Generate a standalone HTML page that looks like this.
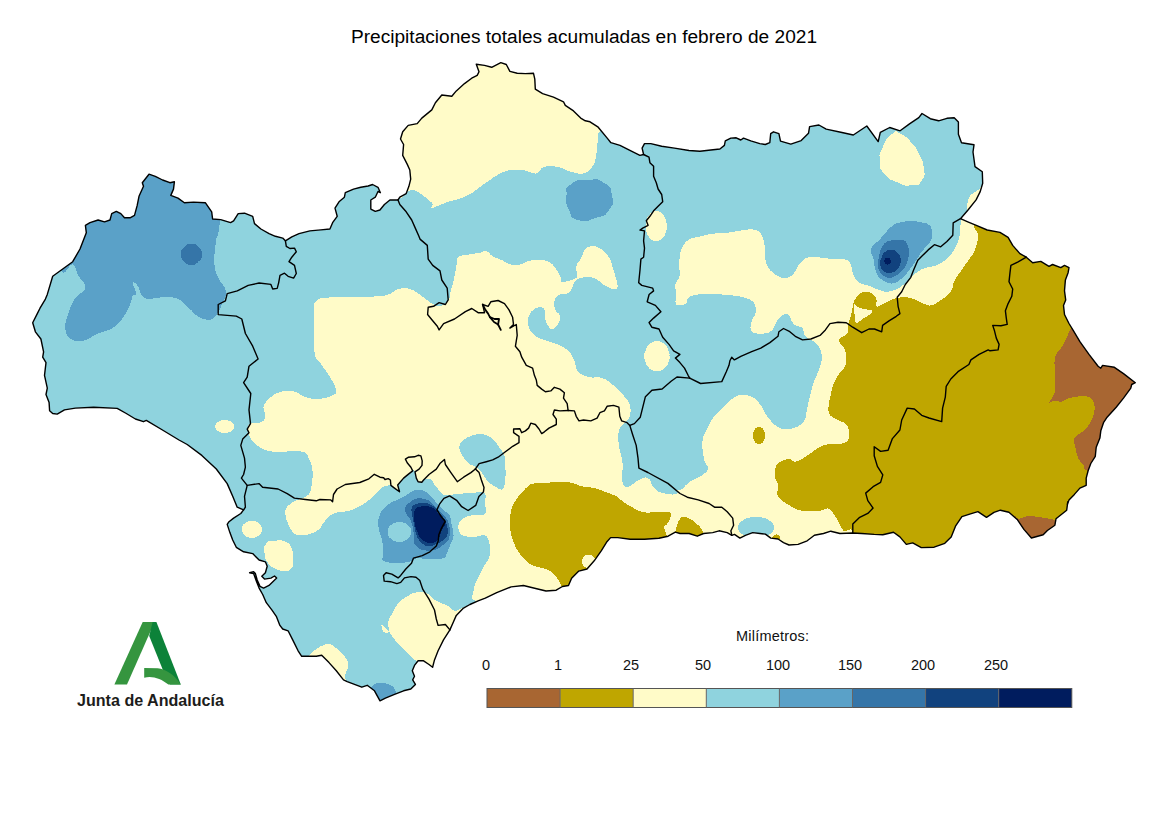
<!DOCTYPE html>
<html><head><meta charset="utf-8"><title>Precipitaciones</title>
<style>
html,body{margin:0;padding:0;background:#fff;}
body{width:1169px;height:826px;overflow:hidden;position:relative;font-family:"Liberation Sans",sans-serif;}
svg{position:absolute;left:0;top:0;}
text{font-family:"Liberation Sans",sans-serif;}
</style></head><body>
<svg width="1169" height="826" viewBox="0 0 1169 826">
<rect width="1169" height="826" fill="#ffffff"/>
<defs><clipPath id="and"><path d="M52.7,413.5 L49.6,410.8 L49.1,402.6 L46.0,394.5 L47.3,388.1 L44.5,375.4 L46.0,362.7 L42.7,357.2 L43.6,351.8 L40.9,339.0 L35.4,331.8 L32.7,322.7 L37.3,313.6 L40.0,308.2 L45.4,299.1 L47.3,294.4 L52.7,276.3 L62.7,269.0 L72.7,261.7 L80.0,249.0 L86.3,232.7 L85.4,225.4 L90.0,222.7 L98.1,220.0 L104.5,221.8 L110.0,220.0 L111.7,213.6 L116.3,211.4 L120.8,213.6 L124.5,217.8 L130.0,217.8 L134.5,215.4 L137.2,205.4 L139.0,196.3 L143.5,186.3 L142.3,182.7 L149.0,174.2 L155.3,176.3 L162.6,180.0 L169.9,182.7 L174.4,181.8 L173.5,189.1 L170.8,195.4 L178.0,198.1 L184.4,202.7 L193.5,202.1 L205.3,202.7 L211.7,211.8 L212.6,219.0 L220.7,219.6 L230.6,222.6 L233.6,220.9 L238.2,213.6 L244.5,213.2 L252.7,216.3 L254.5,223.6 L260.9,229.0 L269.1,233.6 L275.4,236.3 L282.7,238.1 L285.4,240.8 L291.8,236.8 L299.0,233.6 L309.9,230.9 L320.8,229.9 L329.9,229.0 L332.6,222.7 L337.2,216.3 L335.0,208.1 L339.0,201.8 L344.4,197.2 L345.3,192.7 L353.5,189.1 L360.8,187.3 L368.1,186.0 L372.6,184.5 L378.0,187.3 L380.4,192.7 L378.0,191.5 L375.3,197.2 L370.8,200.0 L370.8,209.1 L375.3,211.4 L379.9,210.0 L384.4,204.5 L389.9,200.0 L398.0,200.0 L399.8,197.2 L406.2,193.6 L408.9,186.3 L410.7,179.1 L409.8,170.0 L407.3,164.4 L402.7,155.4 L403.6,144.5 L400.5,139.0 L402.7,131.7 L408.2,125.4 L417.2,123.6 L421.8,118.1 L431.8,109.9 L435.4,102.7 L441.8,95.0 L451.8,96.3 L456.3,90.9 L464.5,83.6 L471.7,78.2 L477.2,75.4 L479.0,71.8 L476.3,64.2 L484.5,65.4 L491.7,67.3 L500.8,62.7 L506.3,64.5 L509.9,71.4 L517.2,73.3 L525.3,73.6 L533.5,73.3 L534.8,79.1 L535.3,89.1 L542.6,93.6 L553.5,97.2 L563.5,101.8 L565.3,105.4 L573.5,110.9 L580.7,118.1 L585.3,120.8 L590.0,121.8 L598.2,127.2 L607.2,138.1 L610.9,142.7 L620.0,145.4 L630.9,150.9 L639.9,155.4 L643.6,154.5 L642.1,148.1 L644.5,143.6 L650.8,143.6 L661.7,146.3 L674.5,148.1 L689.0,150.5 L699.9,151.2 L710.8,150.0 L719.9,149.0 L724.4,145.4 L725.3,140.9 L730.8,138.1 L736.2,137.8 L740.8,140.0 L743.5,138.1 L750.8,140.9 L759.8,143.6 L765.3,144.5 L769.8,142.7 L770.7,133.6 L773.5,131.8 L778.9,133.6 L780.5,141.2 L790.8,144.1 L801.2,140.6 L808.5,133.3 L809.6,126.6 L818.9,125.0 L826.2,129.1 L840.8,132.3 L853.3,135.0 L866.8,126.0 L878.2,141.6 L880.3,132.3 L889.7,127.5 L900.1,130.8 L909.5,123.9 L918.8,117.7 L922.0,113.5 L930.3,118.7 L938.6,120.8 L946.9,118.3 L954.2,117.7 L958.4,121.9 L958.4,134.3 L961.5,142.7 L974.0,144.8 L973.0,152.0 L975.0,166.6 L982.3,171.8 L982.7,183.3 L980.2,191.6 L976.1,199.9 L967.8,210.3 L960.5,218.7 L967.8,221.8 L976.3,225.4 L987.2,230.0 L1000.0,232.4 L1008.1,237.3 L1012.7,245.4 L1019.9,253.6 L1026.3,257.2 L1032.7,262.7 L1040.8,261.4 L1049.0,266.3 L1052.6,264.5 L1060.8,267.6 L1064.5,265.4 L1069.0,267.6 L1068.1,272.7 L1065.4,279.9 L1064.5,290.8 L1065.7,299.9 L1063.5,305.4 L1064.5,314.5 L1069.0,323.5 L1073.5,330.8 L1079.9,341.7 L1089.0,354.4 L1098.1,366.2 L1100.8,368.2 L1102.6,365.4 L1114.4,367.3 L1123.5,373.6 L1135.3,382.7 L1131.7,384.5 L1130.8,388.2 L1123.5,398.1 L1116.2,407.2 L1107.1,417.2 L1103.5,422.7 L1100.8,430.8 L1099.9,438.1 L1096.2,447.2 L1095.3,456.3 L1090.8,463.5 L1088.1,470.8 L1086.2,478.1 L1086.2,485.3 L1079.9,488.1 L1074.4,494.4 L1069.0,499.9 L1067.2,505.3 L1067.8,501.6 L1066.7,510.2 L1056.0,518.8 L1054.9,525.2 L1047.4,530.5 L1043.2,534.8 L1031.4,538.0 L1023.9,529.4 L1017.5,519.8 L1008.9,512.3 L1000.4,510.2 L994.0,512.3 L986.5,517.3 L977.9,511.7 L970.5,513.8 L961.9,516.6 L955.5,526.2 L951.2,536.9 L944.8,543.3 L934.1,547.2 L921.3,547.6 L912.7,542.9 L906.3,544.4 L899.9,536.9 L893.5,532.2 L882.8,534.8 L874.2,534.4 L861.7,533.5 L852.6,533.0 L839.9,533.5 L830.8,531.2 L823.5,533.5 L814.4,535.3 L807.2,540.8 L798.1,544.4 L789.0,545.0 L783.5,542.6 L778.1,539.0 L770.8,538.1 L765.4,534.1 L759.9,533.5 L752.7,532.6 L745.4,535.3 L739.9,538.1 L734.5,534.4 L731.8,535.3 L727.2,532.6 L719.1,530.8 L712.7,532.6 L703.6,533.5 L697.3,536.2 L689.1,533.5 L680.0,533.5 L675.3,532.1 L668.1,536.2 L658.9,538.2 L644.5,539.3 L630.1,539.3 L617.8,537.6 L610.6,537.6 L606.5,542.3 L601.4,550.6 L594.2,560.8 L587.0,569.0 L578.8,571.1 L571.6,578.3 L568.5,585.5 L562.4,586.5 L556.2,590.2 L546.0,591.0 L535.7,588.5 L523.4,585.5 L511.1,586.9 L496.7,592.6 L485.3,598.1 L478.1,600.9 L469.9,604.5 L463.5,608.1 L456.3,615.4 L453.5,621.8 L449.9,629.9 L443.5,639.9 L438.1,650.8 L434.5,659.9 L432.6,667.2 L429.0,664.5 L423.6,660.8 L418.1,660.8 L414.5,665.4 L412.3,670.8 L414.5,676.3 L412.7,679.9 L415.4,684.4 L410.8,689.0 L403.6,690.8 L394.5,694.4 L385.4,698.1 L380.0,700.8 L374.5,690.8 L367.2,685.3 L361.8,687.2 L354.5,684.4 L347.2,681.7 L343.5,679.9 L336.3,670.8 L329.0,662.6 L321.7,655.3 L316.3,656.3 L309.0,656.3 L301.7,656.3 L298.1,650.8 L292.7,639.9 L288.1,630.8 L282.7,629.0 L279.9,625.4 L276.3,616.3 L271.8,609.9 L266.3,602.7 L262.7,594.5 L259.1,588.1 L256.3,580.9 L253.6,573.6 L249.6,572.7 L253.6,571.8 L255.4,573.6 L257.2,580.0 L260.0,586.3 L263.6,588.1 L269.0,585.4 L273.6,580.9 L276.7,578.1 L274.5,576.0 L270.9,578.1 L264.5,579.1 L261.8,576.3 L265.4,572.7 L267.2,566.3 L265.4,561.8 L259.1,560.0 L252.7,553.6 L243.6,551.8 L236.3,547.3 L232.7,540.0 L229.9,532.6 L227.2,524.4 L229.0,521.7 L233.6,518.1 L240.8,513.5 L243.6,509.9 L237.2,507.2 L232.7,496.3 L227.2,483.6 L216.3,469.0 L201.8,455.4 L187.2,444.5 L179.0,440.0 L160.8,429.0 L146.3,420.4 L143.5,421.7 L135.4,419.0 L126.3,413.5 L117.2,408.4 L93.6,407.2 L75.4,408.1 L64.5,409.9 L57.2,414.1Z"/></clipPath></defs>
<g clip-path="url(#and)" shape-rendering="crispEdges">
<path d="M52.7,413.5 L49.6,410.8 L49.1,402.6 L46.0,394.5 L47.3,388.1 L44.5,375.4 L46.0,362.7 L42.7,357.2 L43.6,351.8 L40.9,339.0 L35.4,331.8 L32.7,322.7 L37.3,313.6 L40.0,308.2 L45.4,299.1 L47.3,294.4 L52.7,276.3 L62.7,269.0 L72.7,261.7 L80.0,249.0 L86.3,232.7 L85.4,225.4 L90.0,222.7 L98.1,220.0 L104.5,221.8 L110.0,220.0 L111.7,213.6 L116.3,211.4 L120.8,213.6 L124.5,217.8 L130.0,217.8 L134.5,215.4 L137.2,205.4 L139.0,196.3 L143.5,186.3 L142.3,182.7 L149.0,174.2 L155.3,176.3 L162.6,180.0 L169.9,182.7 L174.4,181.8 L173.5,189.1 L170.8,195.4 L178.0,198.1 L184.4,202.7 L193.5,202.1 L205.3,202.7 L211.7,211.8 L212.6,219.0 L220.7,219.6 L230.6,222.6 L233.6,220.9 L238.2,213.6 L244.5,213.2 L252.7,216.3 L254.5,223.6 L260.9,229.0 L269.1,233.6 L275.4,236.3 L282.7,238.1 L285.4,240.8 L291.8,236.8 L299.0,233.6 L309.9,230.9 L320.8,229.9 L329.9,229.0 L332.6,222.7 L337.2,216.3 L335.0,208.1 L339.0,201.8 L344.4,197.2 L345.3,192.7 L353.5,189.1 L360.8,187.3 L368.1,186.0 L372.6,184.5 L378.0,187.3 L380.4,192.7 L378.0,191.5 L375.3,197.2 L370.8,200.0 L370.8,209.1 L375.3,211.4 L379.9,210.0 L384.4,204.5 L389.9,200.0 L398.0,200.0 L399.8,197.2 L406.2,193.6 L408.9,186.3 L410.7,179.1 L409.8,170.0 L407.3,164.4 L402.7,155.4 L403.6,144.5 L400.5,139.0 L402.7,131.7 L408.2,125.4 L417.2,123.6 L421.8,118.1 L431.8,109.9 L435.4,102.7 L441.8,95.0 L451.8,96.3 L456.3,90.9 L464.5,83.6 L471.7,78.2 L477.2,75.4 L479.0,71.8 L476.3,64.2 L484.5,65.4 L491.7,67.3 L500.8,62.7 L506.3,64.5 L509.9,71.4 L517.2,73.3 L525.3,73.6 L533.5,73.3 L534.8,79.1 L535.3,89.1 L542.6,93.6 L553.5,97.2 L563.5,101.8 L565.3,105.4 L573.5,110.9 L580.7,118.1 L585.3,120.8 L590.0,121.8 L598.2,127.2 L607.2,138.1 L610.9,142.7 L620.0,145.4 L630.9,150.9 L639.9,155.4 L643.6,154.5 L642.1,148.1 L644.5,143.6 L650.8,143.6 L661.7,146.3 L674.5,148.1 L689.0,150.5 L699.9,151.2 L710.8,150.0 L719.9,149.0 L724.4,145.4 L725.3,140.9 L730.8,138.1 L736.2,137.8 L740.8,140.0 L743.5,138.1 L750.8,140.9 L759.8,143.6 L765.3,144.5 L769.8,142.7 L770.7,133.6 L773.5,131.8 L778.9,133.6 L780.5,141.2 L790.8,144.1 L801.2,140.6 L808.5,133.3 L809.6,126.6 L818.9,125.0 L826.2,129.1 L840.8,132.3 L853.3,135.0 L866.8,126.0 L878.2,141.6 L880.3,132.3 L889.7,127.5 L900.1,130.8 L909.5,123.9 L918.8,117.7 L922.0,113.5 L930.3,118.7 L938.6,120.8 L946.9,118.3 L954.2,117.7 L958.4,121.9 L958.4,134.3 L961.5,142.7 L974.0,144.8 L973.0,152.0 L975.0,166.6 L982.3,171.8 L982.7,183.3 L980.2,191.6 L976.1,199.9 L967.8,210.3 L960.5,218.7 L967.8,221.8 L976.3,225.4 L987.2,230.0 L1000.0,232.4 L1008.1,237.3 L1012.7,245.4 L1019.9,253.6 L1026.3,257.2 L1032.7,262.7 L1040.8,261.4 L1049.0,266.3 L1052.6,264.5 L1060.8,267.6 L1064.5,265.4 L1069.0,267.6 L1068.1,272.7 L1065.4,279.9 L1064.5,290.8 L1065.7,299.9 L1063.5,305.4 L1064.5,314.5 L1069.0,323.5 L1073.5,330.8 L1079.9,341.7 L1089.0,354.4 L1098.1,366.2 L1100.8,368.2 L1102.6,365.4 L1114.4,367.3 L1123.5,373.6 L1135.3,382.7 L1131.7,384.5 L1130.8,388.2 L1123.5,398.1 L1116.2,407.2 L1107.1,417.2 L1103.5,422.7 L1100.8,430.8 L1099.9,438.1 L1096.2,447.2 L1095.3,456.3 L1090.8,463.5 L1088.1,470.8 L1086.2,478.1 L1086.2,485.3 L1079.9,488.1 L1074.4,494.4 L1069.0,499.9 L1067.2,505.3 L1067.8,501.6 L1066.7,510.2 L1056.0,518.8 L1054.9,525.2 L1047.4,530.5 L1043.2,534.8 L1031.4,538.0 L1023.9,529.4 L1017.5,519.8 L1008.9,512.3 L1000.4,510.2 L994.0,512.3 L986.5,517.3 L977.9,511.7 L970.5,513.8 L961.9,516.6 L955.5,526.2 L951.2,536.9 L944.8,543.3 L934.1,547.2 L921.3,547.6 L912.7,542.9 L906.3,544.4 L899.9,536.9 L893.5,532.2 L882.8,534.8 L874.2,534.4 L861.7,533.5 L852.6,533.0 L839.9,533.5 L830.8,531.2 L823.5,533.5 L814.4,535.3 L807.2,540.8 L798.1,544.4 L789.0,545.0 L783.5,542.6 L778.1,539.0 L770.8,538.1 L765.4,534.1 L759.9,533.5 L752.7,532.6 L745.4,535.3 L739.9,538.1 L734.5,534.4 L731.8,535.3 L727.2,532.6 L719.1,530.8 L712.7,532.6 L703.6,533.5 L697.3,536.2 L689.1,533.5 L680.0,533.5 L675.3,532.1 L668.1,536.2 L658.9,538.2 L644.5,539.3 L630.1,539.3 L617.8,537.6 L610.6,537.6 L606.5,542.3 L601.4,550.6 L594.2,560.8 L587.0,569.0 L578.8,571.1 L571.6,578.3 L568.5,585.5 L562.4,586.5 L556.2,590.2 L546.0,591.0 L535.7,588.5 L523.4,585.5 L511.1,586.9 L496.7,592.6 L485.3,598.1 L478.1,600.9 L469.9,604.5 L463.5,608.1 L456.3,615.4 L453.5,621.8 L449.9,629.9 L443.5,639.9 L438.1,650.8 L434.5,659.9 L432.6,667.2 L429.0,664.5 L423.6,660.8 L418.1,660.8 L414.5,665.4 L412.3,670.8 L414.5,676.3 L412.7,679.9 L415.4,684.4 L410.8,689.0 L403.6,690.8 L394.5,694.4 L385.4,698.1 L380.0,700.8 L374.5,690.8 L367.2,685.3 L361.8,687.2 L354.5,684.4 L347.2,681.7 L343.5,679.9 L336.3,670.8 L329.0,662.6 L321.7,655.3 L316.3,656.3 L309.0,656.3 L301.7,656.3 L298.1,650.8 L292.7,639.9 L288.1,630.8 L282.7,629.0 L279.9,625.4 L276.3,616.3 L271.8,609.9 L266.3,602.7 L262.7,594.5 L259.1,588.1 L256.3,580.9 L253.6,573.6 L249.6,572.7 L253.6,571.8 L255.4,573.6 L257.2,580.0 L260.0,586.3 L263.6,588.1 L269.0,585.4 L273.6,580.9 L276.7,578.1 L274.5,576.0 L270.9,578.1 L264.5,579.1 L261.8,576.3 L265.4,572.7 L267.2,566.3 L265.4,561.8 L259.1,560.0 L252.7,553.6 L243.6,551.8 L236.3,547.3 L232.7,540.0 L229.9,532.6 L227.2,524.4 L229.0,521.7 L233.6,518.1 L240.8,513.5 L243.6,509.9 L237.2,507.2 L232.7,496.3 L227.2,483.6 L216.3,469.0 L201.8,455.4 L187.2,444.5 L179.0,440.0 L160.8,429.0 L146.3,420.4 L143.5,421.7 L135.4,419.0 L126.3,413.5 L117.2,408.4 L93.6,407.2 L75.4,408.1 L64.5,409.9 L57.2,414.1Z" fill="#8fd3de"/>
<path d="M395.0,186.0 C391.3,158.0 351.6,77.2 395.0,50.0 C438.4,22.8 568.6,35.0 612.0,50.0 C655.4,65.0 614.4,108.7 612.0,125.0 C609.6,141.3 602.7,129.3 599.9,131.7 C597.1,134.1 598.8,132.5 598.1,137.2 C597.4,141.9 597.3,149.5 596.2,155.3 C595.1,161.1 595.1,162.6 592.6,166.2 C590.1,169.8 587.9,172.4 583.5,173.5 C579.1,174.6 575.9,173.0 570.8,171.7 C565.7,170.4 563.5,167.9 558.1,167.0 C552.7,166.1 548.0,165.7 543.6,167.0 C539.2,168.3 540.7,172.9 536.3,173.5 C531.9,174.1 528.2,170.3 521.8,169.9 C515.4,169.5 511.3,169.2 504.2,171.7 C497.1,174.2 493.4,177.9 486.1,182.6 C478.8,187.3 475.9,191.3 467.9,195.3 C459.9,199.3 453.4,200.0 446.1,202.5 C438.8,205.0 434.5,208.0 431.6,208.0 C428.7,208.0 435.2,206.1 431.6,202.5 C428.0,198.9 420.7,193.1 413.4,189.8 C406.1,186.5 398.7,214.0 395.0,186.0Z" fill="#fffbc8"/>
<path d="M316.2,300.8 C320.2,297.2 322.8,298.1 334.4,297.2 C346.0,296.3 363.4,297.1 374.3,296.5 C385.2,295.9 384.2,295.8 388.9,294.3 C393.6,292.8 393.5,290.2 397.9,289.2 C402.3,288.2 405.6,287.6 410.7,289.2 C415.8,290.8 419.1,294.3 423.4,297.2 C427.7,300.1 428.9,302.0 432.4,303.8 C435.9,305.6 437.8,306.8 441.0,306.0 C444.2,305.2 446.7,302.5 448.5,300.0 C450.3,297.5 449.0,297.4 450.0,293.6 C451.0,289.8 452.3,286.4 453.6,280.9 C454.9,275.4 455.4,271.0 456.3,266.3 C457.2,261.6 455.6,259.6 458.1,257.2 C460.6,254.8 464.6,255.4 469.0,254.5 C473.4,253.6 476.4,253.4 479.9,252.7 C483.4,252.0 483.7,250.2 486.3,250.9 C488.9,251.6 489.6,254.5 492.7,256.3 C495.8,258.1 498.1,258.4 501.7,260.0 C505.3,261.6 507.2,263.6 510.8,264.5 C514.4,265.4 516.3,265.2 519.9,264.5 C523.5,263.8 525.0,261.8 529.0,260.9 C533.0,260.0 535.9,259.8 539.9,260.0 C543.9,260.2 545.9,260.2 549.0,261.8 C552.1,263.4 552.9,265.0 555.3,268.1 C557.7,271.2 559.6,274.4 560.8,277.2 C562.0,280.0 558.8,281.6 561.5,282.0 C564.2,282.4 571.3,280.3 574.4,279.0 C577.5,277.7 576.7,277.9 577.1,275.4 C577.5,272.9 575.3,269.9 576.2,266.3 C577.1,262.7 580.1,260.5 581.7,257.2 C583.3,253.9 582.6,252.2 584.4,250.0 C586.2,247.8 587.6,246.7 590.7,246.3 C593.8,245.9 596.2,246.0 599.8,248.2 C603.4,250.4 606.2,252.8 608.9,257.2 C611.6,261.6 611.9,264.9 613.5,270.0 C615.1,275.1 616.4,279.1 617.1,282.7 C617.8,286.3 618.0,286.8 617.1,288.1 C616.2,289.4 615.3,289.7 612.6,289.0 C609.9,288.3 606.8,286.5 603.5,284.5 C600.2,282.5 599.1,280.5 596.2,279.0 C593.3,277.5 592.2,277.4 588.9,277.2 C585.6,277.0 582.6,277.4 579.9,278.1 C577.2,278.8 576.8,279.3 575.3,280.9 C573.8,282.5 573.9,283.9 572.6,286.3 C571.3,288.7 571.9,290.9 569.0,292.7 C566.1,294.5 561.0,293.6 558.1,295.4 C555.2,297.2 555.0,298.9 554.4,301.8 C553.8,304.7 554.2,307.2 555.3,309.9 C556.4,312.6 559.2,312.9 559.9,315.4 C560.6,317.9 560.3,319.9 559.0,322.6 C557.7,325.3 555.5,328.1 553.5,329.0 C551.5,329.9 550.6,329.2 549.0,327.2 C547.4,325.2 546.2,322.5 545.3,319.0 C544.4,315.5 545.3,312.3 544.4,309.9 C543.5,307.5 542.8,307.4 540.8,307.2 C538.8,307.0 536.8,307.4 534.4,309.0 C532.0,310.6 530.3,312.3 529.0,315.4 C527.7,318.5 527.4,320.9 528.1,324.5 C528.8,328.1 529.5,330.4 532.6,333.5 C535.7,336.6 538.4,337.7 543.5,339.9 C548.6,342.1 553.0,342.0 558.1,344.4 C563.2,346.8 565.7,348.4 569.0,351.7 C572.3,355.0 572.6,356.8 574.4,360.8 C576.2,364.8 575.2,368.4 578.1,371.7 C581.0,375.0 584.0,375.8 588.9,377.1 C593.8,378.4 597.6,376.4 602.5,378.1 C607.4,379.8 609.0,381.8 613.4,385.4 C617.8,389.0 621.0,392.3 624.3,396.3 C627.6,400.3 628.7,401.3 629.8,405.3 C630.9,409.3 630.9,412.6 629.8,416.2 C628.7,419.8 626.5,420.6 624.3,423.5 C622.1,426.4 620.0,426.4 618.9,430.8 C617.8,435.2 618.2,438.8 618.9,445.3 C619.6,451.8 621.8,456.1 622.5,463.4 C623.2,470.7 621.4,476.9 622.5,481.6 C623.6,486.3 624.7,487.4 628.0,487.0 C631.3,486.6 634.9,481.6 638.9,479.8 C642.9,478.0 645.0,476.6 647.9,478.0 C650.8,479.4 650.8,484.1 653.4,487.0 C656.0,489.9 656.3,491.0 660.7,492.5 C665.1,494.0 670.9,495.0 675.2,494.3 C679.5,493.6 677.4,489.2 682.4,488.9 C687.4,488.6 689.5,489.6 700.0,493.0 C710.5,496.4 726.0,495.6 735.0,506.0 C744.0,516.4 772.0,534.2 745.0,545.0 C718.0,555.8 637.0,549.0 600.0,560.0 C563.0,571.0 583.5,591.6 560.0,600.0 C536.5,608.4 500.0,603.9 482.7,602.0 C465.4,600.1 473.6,597.2 473.6,590.6 C473.6,584.0 479.4,576.1 482.7,568.8 C486.0,561.5 489.3,560.7 490.0,554.2 C490.7,547.7 489.5,539.5 486.3,536.1 C483.1,532.7 479.1,537.4 474.0,537.0 C468.9,536.6 464.0,537.0 461.0,534.3 C458.0,531.6 457.6,527.0 459.0,523.4 C460.4,519.8 463.1,517.9 468.2,516.1 C473.3,514.3 481.1,516.8 484.5,514.3 C487.9,511.8 485.1,507.7 485.0,503.4 C484.9,499.1 487.0,495.1 484.2,493.0 C481.4,490.9 475.3,493.0 470.8,493.1 C466.3,493.2 465.3,493.3 461.7,493.6 C458.1,493.9 455.2,494.1 452.7,494.5 C450.2,494.9 451.0,495.4 449.0,495.4 C447.0,495.4 444.9,495.8 442.7,494.5 C440.5,493.2 439.7,490.8 438.1,489.0 C436.5,487.2 435.8,487.2 434.5,485.4 C433.2,483.6 433.6,481.3 431.8,480.0 C430.0,478.7 427.1,479.1 425.4,479.1 C423.7,479.1 424.1,479.4 423.4,480.0 C422.7,480.6 422.9,481.8 421.8,482.2 C420.7,482.6 419.2,482.6 418.1,481.8 C417.0,481.0 416.9,480.1 416.3,478.1 C415.7,476.1 415.7,473.2 415.0,471.8 C414.3,470.4 415.0,469.6 412.7,470.9 C410.4,472.2 406.6,475.3 403.6,478.1 C400.6,480.9 398.5,482.3 397.7,485.0 C396.9,487.7 400.1,491.2 399.5,491.8 C398.9,492.4 396.2,489.4 394.5,488.1 C392.8,486.8 393.5,485.4 390.9,485.4 C388.3,485.4 385.6,485.3 381.6,488.0 C377.6,490.7 376.5,494.5 370.7,498.8 C364.9,503.1 359.8,506.8 352.5,509.7 C345.2,512.6 339.8,511.1 334.4,513.3 C329.0,515.5 328.9,517.0 325.3,520.6 C321.7,524.2 321.6,528.6 316.2,531.5 C310.8,534.4 303.5,536.2 298.1,535.1 C292.7,534.0 291.5,530.8 289.0,526.0 C286.5,521.2 284.7,515.7 285.4,511.0 C286.1,506.3 288.6,505.2 292.6,502.4 C296.6,499.6 301.7,499.5 305.3,497.0 C308.9,494.5 309.3,494.8 310.8,489.7 C312.3,484.6 313.0,477.8 312.6,471.6 C312.2,465.4 311.2,462.8 309.0,458.8 C306.8,454.8 309.0,453.0 301.7,451.6 C294.4,450.2 281.3,452.7 272.6,451.6 C263.9,450.5 262.8,449.4 258.1,446.1 C253.4,442.8 250.8,439.6 249.0,435.2 C247.2,430.8 246.8,426.8 249.0,424.3 C251.2,421.8 256.6,423.9 259.9,422.5 C263.2,421.1 264.7,420.4 265.4,417.1 C266.1,413.8 262.5,410.2 263.6,406.2 C264.7,402.2 267.2,400.0 270.8,397.1 C274.4,394.2 277.0,392.7 281.7,391.6 C286.4,390.5 289.7,390.5 294.4,391.6 C299.1,392.7 300.2,395.6 305.3,397.1 C310.4,398.6 314.4,399.3 319.9,398.9 C325.4,398.5 329.3,397.1 332.6,395.3 C335.9,393.5 336.9,393.8 336.2,389.8 C335.5,385.8 332.2,380.7 328.9,375.3 C325.6,369.9 322.8,367.3 319.9,362.6 C317.0,357.9 315.5,361.1 314.4,351.7 C313.3,342.3 314.0,325.6 314.4,315.4 C314.8,305.2 312.2,304.4 316.2,300.8Z" fill="#fffbc8"/>
<path d="M679.0,266.3 C679.0,262.3 679.3,259.4 680.0,255.4 C680.7,251.4 680.7,249.6 682.7,246.3 C684.7,243.0 686.3,241.1 689.9,239.1 C693.5,237.1 696.1,237.5 700.8,236.4 C705.5,235.3 708.0,234.3 713.5,233.6 C719.0,232.9 721.9,233.4 728.1,232.7 C734.3,232.0 739.4,230.6 744.4,230.0 C749.4,229.4 749.7,228.8 753.0,229.5 C756.3,230.2 758.5,230.6 760.8,233.6 C763.1,236.6 763.5,239.4 764.4,244.5 C765.3,249.6 764.2,254.0 765.3,259.1 C766.4,264.2 767.2,266.6 769.9,270.0 C772.6,273.4 775.6,274.7 778.9,276.3 C782.2,277.9 783.3,278.6 786.2,278.1 C789.1,277.6 790.6,276.7 793.5,273.6 C796.4,270.5 797.4,266.0 800.7,262.7 C804.0,259.4 804.2,257.8 810.0,257.0 C815.8,256.2 822.3,258.1 829.9,258.8 C837.5,259.5 843.4,257.4 848.1,260.7 C852.8,264.0 851.3,270.8 853.5,275.2 C855.7,279.6 855.7,280.3 859.0,282.5 C862.3,284.7 864.8,284.3 869.9,286.1 C875.0,287.9 879.3,290.8 884.4,291.5 C889.5,292.2 890.9,291.5 895.3,289.7 C899.7,287.9 901.1,286.5 906.2,282.5 C911.3,278.5 914.2,273.3 920.7,269.7 C927.2,266.1 932.7,267.6 938.9,264.3 C945.1,261.0 947.6,258.5 951.6,253.4 C955.6,248.3 957.0,244.7 958.8,238.9 C960.6,233.1 959.6,228.7 960.7,224.3 C961.8,219.9 959.4,221.9 964.3,217.0 C969.2,212.1 979.9,197.4 985.0,200.0 C990.1,202.6 989.0,222.0 990.0,230.0 C991.0,238.0 994.0,228.0 990.0,240.0 C986.0,252.0 982.0,274.0 970.0,290.0 C958.0,306.0 948.0,310.0 930.0,320.0 C912.0,330.0 894.0,324.0 880.0,340.0 C866.0,356.0 864.0,380.0 860.0,400.0 C856.0,420.0 872.0,424.0 860.0,440.0 C848.0,456.0 811.0,469.0 800.0,480.0 C789.0,491.0 795.0,489.4 805.0,495.0 C815.0,500.6 837.8,498.0 850.0,508.0 C862.2,518.0 890.0,536.6 866.0,545.0 C842.0,553.4 758.8,556.0 730.0,550.0 C701.2,544.0 727.2,523.6 722.0,515.0 C716.8,506.4 712.8,511.6 704.0,507.0 C695.2,502.4 682.3,495.6 678.0,492.0 C673.7,488.4 680.1,491.0 682.4,488.9 C684.7,486.8 686.1,484.1 689.7,481.6 C693.3,479.1 697.0,478.7 700.6,476.2 C704.2,473.7 707.2,472.2 707.9,468.9 C708.6,465.6 705.3,465.3 704.2,459.8 C703.1,454.3 701.7,448.2 702.4,441.6 C703.1,435.0 705.5,432.1 707.9,427.0 C710.3,421.9 710.6,420.9 714.5,416.2 C718.4,411.5 722.8,407.5 727.2,403.5 C731.6,399.5 732.3,398.0 736.3,396.3 C740.3,394.6 742.8,394.1 747.2,395.2 C751.6,396.3 754.1,397.5 758.1,401.7 C762.1,405.9 763.2,411.1 767.2,416.2 C771.2,421.3 773.4,424.6 778.1,427.1 C782.8,429.6 785.7,430.0 790.8,428.9 C795.9,427.8 800.2,425.7 803.5,421.7 C806.8,417.7 805.3,416.3 807.1,409.0 C808.9,401.7 810.0,393.8 812.6,385.4 C815.2,377.0 818.1,373.4 819.9,367.2 C821.7,361.0 822.4,359.2 821.7,354.5 C821.0,349.8 819.5,347.2 816.2,343.6 C812.9,340.0 808.0,339.4 805.3,336.3 C802.6,333.2 804.5,330.3 802.5,328.1 C800.5,325.9 797.5,326.9 795.3,325.4 C793.1,323.9 792.9,322.8 791.6,320.8 C790.3,318.8 790.3,316.7 788.9,315.4 C787.5,314.1 786.4,314.0 784.4,314.5 C782.4,315.0 780.7,316.1 778.9,318.1 C777.1,320.1 776.7,322.0 775.3,324.5 C773.9,327.0 773.9,329.0 771.7,330.8 C769.5,332.6 767.7,333.0 764.4,333.5 C761.1,334.0 758.0,333.9 755.3,333.2 C752.6,332.5 751.5,332.4 750.8,329.9 C750.1,327.4 750.8,324.1 751.7,320.8 C752.6,317.5 754.6,316.5 755.3,313.6 C756.0,310.7 756.0,308.9 755.3,306.3 C754.6,303.7 754.2,302.6 751.7,300.8 C749.2,299.0 747.3,298.4 742.6,297.2 C737.9,296.0 735.0,295.7 728.1,295.0 C721.2,294.3 714.6,293.9 708.1,293.9 C701.6,293.9 699.4,294.2 695.4,295.0 C691.4,295.8 689.9,296.4 688.1,298.1 C686.3,299.8 688.7,302.3 686.3,303.6 C683.9,304.9 678.3,306.5 676.3,304.5 C674.3,302.5 676.5,297.6 676.3,293.6 C676.1,289.6 674.7,288.1 675.4,284.5 C676.1,280.9 679.2,279.0 679.9,275.4 C680.6,271.8 679.0,270.3 679.0,266.3Z" fill="#fffbc8"/>
<path d="M984.0,185.0 C982.0,184.6 980.4,188.2 978.0,190.0 C975.6,191.8 973.9,192.2 972.0,194.0 C970.1,195.8 969.5,195.8 968.5,199.0 C967.5,202.2 965.7,208.6 967.0,210.0 C968.3,211.4 970.8,209.6 975.0,206.0 C979.2,202.4 986.2,196.2 988.0,192.0 C989.8,187.8 986.0,185.4 984.0,185.0Z" fill="#fffbc8"/>
<path d="M234.2,426.5 C234.2,428.2 234.4,427.5 233.5,429.0 C232.5,430.5 233.1,429.9 231.4,431.1 C229.7,432.3 230.6,431.9 228.3,432.5 C226.1,433.1 227.1,433.0 224.7,433.0 C222.3,433.0 223.3,433.1 221.1,432.5 C218.8,431.9 219.7,432.3 218.0,431.1 C216.3,429.9 216.9,430.5 215.9,429.0 C215.0,427.5 215.2,428.2 215.2,426.5 C215.2,424.8 215.0,425.5 215.9,424.0 C216.9,422.5 216.3,423.1 218.0,421.9 C219.7,420.7 218.8,421.1 221.1,420.5 C223.3,419.9 222.3,420.0 224.7,420.0 C227.1,420.0 226.1,419.9 228.3,420.5 C230.6,421.1 229.7,420.7 231.4,421.9 C233.1,423.1 232.5,422.5 233.5,424.0 C234.4,425.5 234.2,424.8 234.2,426.5Z" fill="#fffbc8"/>
<path d="M261.9,529.3 C261.9,531.5 262.1,530.5 261.1,532.6 C260.2,534.6 260.8,533.8 259.0,535.3 C257.2,536.8 258.1,536.3 255.7,537.2 C253.4,538.0 254.5,537.8 251.9,537.8 C249.3,537.8 250.4,538.0 248.1,537.2 C245.7,536.3 246.6,536.8 244.8,535.3 C243.0,533.8 243.6,534.6 242.7,532.6 C241.7,530.5 241.9,531.5 241.9,529.3 C241.9,527.1 241.7,528.1 242.7,526.0 C243.6,524.0 243.0,524.8 244.8,523.3 C246.6,521.8 245.7,522.3 248.1,521.4 C250.4,520.6 249.3,520.8 251.9,520.8 C254.5,520.8 253.4,520.6 255.7,521.4 C258.1,522.3 257.2,521.8 259.0,523.3 C260.8,524.8 260.2,524.0 261.1,526.0 C262.1,528.1 261.9,527.1 261.9,529.3Z" fill="#fffbc8"/>
<path d="M264.5,552.7 C264.2,546.6 263.0,547.5 266.3,543.6 C269.6,539.7 268.1,541.5 274.5,540.9 C280.9,540.3 279.6,539.1 285.4,541.8 C291.2,544.5 289.3,543.0 291.8,549.1 C294.3,555.2 293.0,553.6 293.0,560.0 C293.0,566.4 294.9,564.7 291.8,568.2 C288.7,571.7 289.4,570.5 283.6,570.5 C277.8,570.5 280.0,571.1 274.5,568.2 C269.0,565.3 270.5,567.0 267.2,561.8 C263.9,556.6 264.8,558.8 264.5,552.7Z" fill="#fffbc8"/>
<path d="M666.7,226.2 C666.7,230.0 666.9,228.4 665.9,231.9 C664.9,235.5 665.5,234.1 663.6,236.8 C661.7,239.5 662.7,238.6 660.2,240.1 C657.7,241.5 658.9,241.2 656.2,241.2 C653.5,241.2 654.7,241.5 652.2,240.1 C649.7,238.6 650.7,239.5 648.8,236.8 C646.9,234.1 647.5,235.5 646.5,231.9 C645.5,228.4 645.7,230.0 645.7,226.2 C645.7,222.4 645.5,224.0 646.5,220.5 C647.5,216.9 646.9,218.3 648.8,215.6 C650.7,212.9 649.7,213.8 652.2,212.3 C654.7,210.9 653.5,211.2 656.2,211.2 C658.9,211.2 657.7,210.9 660.2,212.3 C662.7,213.8 661.7,212.9 663.6,215.6 C665.5,218.3 664.9,216.9 665.9,220.5 C666.9,224.0 666.7,222.4 666.7,226.2Z" fill="#fffbc8"/>
<path d="M669.5,356.3 C669.5,360.1 669.8,358.5 668.5,362.0 C667.3,365.6 668.1,364.2 665.8,366.9 C663.6,369.6 664.7,368.7 661.8,370.2 C658.8,371.6 660.2,371.3 657.0,371.3 C653.8,371.3 655.2,371.6 652.2,370.2 C649.3,368.7 650.4,369.6 648.2,366.9 C645.9,364.2 646.7,365.6 645.5,362.0 C644.2,358.5 644.5,360.1 644.5,356.3 C644.5,352.5 644.2,354.1 645.5,350.6 C646.7,347.0 645.9,348.4 648.2,345.7 C650.4,343.0 649.3,343.9 652.2,342.4 C655.2,341.0 653.8,341.3 657.0,341.3 C660.2,341.3 658.8,341.0 661.8,342.4 C664.7,343.9 663.6,343.0 665.8,345.7 C668.1,348.4 667.3,347.0 668.5,350.6 C669.8,354.1 669.5,352.5 669.5,356.3Z" fill="#fffbc8"/>
<path d="M892.8,133.3 C886.6,137.8 886.6,138.2 882.4,147.9 C878.2,157.6 879.6,153.7 880.3,162.4 C881.0,171.1 878.9,167.3 884.5,173.9 C890.1,180.5 888.0,178.4 897.0,182.2 C906.0,186.0 903.2,186.0 911.5,185.3 C919.8,184.6 918.0,186.3 922.0,180.1 C926.0,173.9 924.7,175.3 923.6,166.6 C922.5,157.9 922.8,162.1 918.8,154.1 C914.8,146.1 917.4,149.3 911.5,142.7 C905.6,136.1 907.3,137.4 901.1,134.3 C894.9,131.2 899.0,128.8 892.8,133.3Z" fill="#fffbc8"/>
<path d="M300.0,665.0 C297.8,658.1 305.7,658.5 309.0,655.3 C312.3,652.1 313.0,651.2 316.3,649.0 C319.6,646.8 322.1,645.2 325.4,644.5 C328.7,643.8 329.5,643.8 332.6,645.4 C335.7,647.0 337.9,649.7 340.8,652.6 C343.7,655.5 345.7,657.0 347.2,659.9 C348.7,662.8 348.5,664.3 348.1,667.2 C347.7,670.1 346.2,669.8 345.3,674.4 C344.4,679.0 348.6,686.9 343.5,690.0 C338.4,693.1 328.7,695.0 320.0,690.0 C311.3,685.0 302.2,671.9 300.0,665.0Z" fill="#fffbc8"/>
<path d="M381.8,624.5 C380.7,624.5 382.2,630.3 383.6,631.8 C385.0,633.3 388.1,633.8 389.0,631.8 C389.9,629.8 387.4,625.6 388.1,621.8 C388.8,618.0 390.7,616.3 392.7,612.7 C394.7,609.1 395.2,606.9 398.1,603.6 C401.0,600.3 403.2,598.7 407.2,596.3 C411.2,593.9 414.1,592.3 418.1,591.8 C422.1,591.3 423.6,591.8 427.2,593.6 C430.8,595.4 432.3,598.5 436.3,600.9 C440.3,603.3 443.6,603.4 447.2,605.4 C450.8,607.4 449.8,609.6 454.4,610.9 C459.0,612.2 470.9,598.2 470.0,612.0 C469.1,625.8 460.4,670.0 450.0,680.0 C439.6,690.0 425.6,666.4 418.1,662.0 C410.6,657.6 415.2,660.3 412.7,658.1 C410.2,655.9 408.7,654.1 405.4,650.8 C402.1,647.5 399.6,645.5 396.3,641.7 C393.0,637.9 391.9,635.2 389.0,631.8 C386.1,628.4 382.9,624.5 381.8,624.5Z" fill="#fffbc8"/>
<path d="M774.0,527.5 C774.0,530.2 774.4,529.0 772.6,531.5 C770.9,534.0 772.0,533.0 768.7,534.9 C765.5,536.8 767.1,536.2 762.9,537.2 C758.6,538.2 760.6,538.0 756.0,538.0 C751.4,538.0 753.4,538.2 749.1,537.2 C744.9,536.2 746.5,536.8 743.3,534.9 C740.0,533.0 741.1,534.0 739.4,531.5 C737.6,529.0 738.0,530.2 738.0,527.5 C738.0,524.8 737.6,526.0 739.4,523.5 C741.1,521.0 740.0,522.0 743.3,520.1 C746.5,518.2 744.9,518.8 749.1,517.8 C753.4,516.8 751.4,517.0 756.0,517.0 C760.6,517.0 758.6,516.8 762.9,517.8 C767.1,518.8 765.5,518.2 768.7,520.1 C772.0,522.0 770.9,521.0 772.6,523.5 C774.4,526.0 774.0,524.8 774.0,527.5Z" fill="#8fd3de"/>
<path d="M459.1,447.2 C459.3,443.9 460.9,442.3 463.6,439.9 C466.3,437.5 468.7,436.5 472.7,435.4 C476.7,434.3 479.6,433.8 483.6,434.5 C487.6,435.2 489.4,436.3 492.7,439.0 C496.0,441.7 497.5,444.6 499.9,448.1 C502.3,451.6 503.4,452.5 504.5,456.3 C505.6,460.1 505.2,462.8 505.4,467.2 C505.6,471.6 505.9,473.7 505.4,478.1 C504.9,482.5 504.5,487.2 502.7,489.0 C500.9,490.8 499.4,488.8 496.3,487.2 C493.2,485.6 490.1,483.7 487.2,480.8 C484.3,477.9 484.0,475.3 481.8,472.6 C479.6,469.9 478.8,469.0 476.3,467.2 C473.8,465.4 471.8,465.8 469.1,463.6 C466.4,461.4 464.7,459.6 462.7,456.3 C460.7,453.0 458.9,450.5 459.1,447.2Z" fill="#8fd3de"/>
<path d="M975.2,224.0 C979.6,219.9 963.0,209.8 1000.0,215.0 C1037.0,220.2 1128.0,181.0 1160.0,250.0 C1192.0,319.0 1221.5,498.0 1160.0,560.0 C1098.5,622.0 914.0,565.7 852.5,560.0 C791.0,554.3 854.3,537.6 852.5,531.7 C850.7,525.8 846.8,533.4 843.5,530.6 C840.2,527.8 839.1,522.3 836.2,517.9 C833.3,513.5 832.2,510.2 828.9,508.8 C825.6,507.4 825.3,510.3 819.9,510.7 C814.5,511.1 807.9,511.8 801.7,510.7 C795.5,509.6 793.7,508.1 789.0,505.2 C784.3,502.3 780.3,500.1 778.1,496.1 C775.9,492.1 778.8,489.6 778.1,485.2 C777.4,480.8 774.5,478.7 774.5,474.3 C774.5,469.9 775.2,466.4 778.1,463.4 C781.0,460.4 785.4,459.5 789.0,459.1 C792.6,458.7 792.2,462.5 796.2,461.6 C800.2,460.7 803.5,457.7 809.0,454.4 C814.5,451.1 817.0,447.5 823.5,445.3 C830.0,443.1 836.5,445.0 841.6,443.5 C846.7,442.0 847.8,441.6 848.9,438.0 C850.0,434.4 849.3,428.9 847.1,425.3 C844.9,421.7 841.6,422.4 838.0,419.9 C834.4,417.4 830.3,417.7 828.9,412.6 C827.5,407.5 829.3,401.3 830.8,394.4 C832.3,387.5 833.3,383.9 836.2,378.1 C839.1,372.3 843.5,370.9 845.3,365.4 C847.1,359.9 846.2,355.0 845.3,350.8 C844.4,346.6 842.2,346.9 840.9,344.5 C839.6,342.1 837.7,341.2 839.0,339.0 C840.3,336.8 845.4,336.5 847.2,333.6 C849.0,330.7 847.6,327.4 848.1,324.5 C848.6,321.6 849.2,321.5 849.9,319.0 C850.6,316.5 851.1,315.1 851.8,311.8 C852.5,308.5 852.9,305.2 853.6,302.7 C854.3,300.2 854.1,300.9 855.4,299.1 C856.7,297.3 857.7,295.1 859.9,293.6 C862.1,292.1 863.8,291.8 866.3,291.8 C868.8,291.8 870.6,292.1 872.6,293.6 C874.6,295.1 875.5,296.5 876.3,299.1 C877.1,301.7 875.7,305.4 876.8,306.5 C877.9,307.6 879.3,305.6 881.7,304.5 C884.1,303.4 886.1,302.2 889.0,300.9 C891.9,299.6 893.0,298.9 896.3,298.2 C899.6,297.5 901.7,297.0 905.3,297.2 C908.9,297.4 910.8,297.8 914.4,299.1 C918.0,300.4 920.2,302.3 923.5,303.6 C926.8,304.9 927.5,305.9 930.8,305.4 C934.1,304.9 935.9,303.6 939.9,300.9 C943.9,298.2 947.9,295.8 950.8,291.8 C953.7,287.8 952.2,285.3 954.4,280.9 C956.6,276.5 958.6,274.5 961.7,270.0 C964.8,265.5 967.1,262.2 969.8,258.2 C972.5,254.2 973.3,254.5 975.0,249.9 C976.7,245.3 978.2,240.5 978.2,235.3 C978.2,230.1 970.8,228.1 975.2,224.0Z" fill="#bfa600"/>
<path d="M854.5,313.6 C854.1,309.9 853.8,305.5 854.2,304.0 C854.6,302.5 855.4,305.2 856.5,306.0 C857.6,306.8 857.8,307.4 859.9,308.1 C862.0,308.8 864.7,309.0 867.2,309.6 C869.7,310.2 872.1,309.9 872.6,310.9 C873.1,311.9 871.7,313.1 869.9,314.5 C868.1,315.9 866.3,316.5 863.6,318.1 C860.9,319.7 858.1,323.6 856.3,322.7 C854.5,321.8 854.9,317.3 854.5,313.6Z" fill="#fffbc8"/>
<path d="M528.1,486.3 C530.3,484.7 530.1,484.1 533.6,483.5 C537.1,482.9 540.5,483.6 545.4,483.2 C550.3,482.8 553.0,481.8 558.1,481.7 C563.2,481.6 566.1,481.7 570.8,482.6 C575.5,483.5 577.0,485.2 581.7,486.3 C586.4,487.4 589.3,486.8 594.4,488.1 C599.5,489.4 602.7,491.0 607.1,492.6 C611.5,494.2 612.8,494.4 616.2,496.3 C619.6,498.2 620.0,499.7 624.0,502.3 C628.0,504.9 631.8,507.4 636.3,509.5 C640.8,511.6 641.7,512.2 646.6,512.6 C651.5,513.0 656.2,511.6 660.9,511.6 C665.6,511.6 668.2,511.6 670.2,512.6 C672.2,513.6 671.4,514.4 670.8,516.7 C670.2,519.0 668.5,521.8 667.1,523.9 C665.7,526.0 664.2,525.0 664.0,527.0 C663.8,529.0 665.5,530.5 666.1,534.1 C666.7,537.7 677.5,542.2 667.0,545.0 C656.5,547.8 625.6,546.6 613.4,548.0 C601.2,549.4 609.8,548.2 606.2,552.0 C602.6,555.8 601.8,559.4 595.3,567.0 C588.8,574.6 579.9,585.8 573.5,590.0 C567.1,594.2 566.0,589.3 563.4,588.0 C560.8,586.7 562.1,586.2 560.3,583.4 C558.5,580.6 557.1,577.1 554.2,574.2 C551.3,571.3 550.5,570.9 546.0,569.0 C541.5,567.1 536.5,567.6 531.6,564.9 C526.7,562.2 524.8,560.0 521.3,555.7 C517.8,551.4 516.4,549.1 514.1,543.4 C511.8,537.7 510.6,533.6 510.0,527.0 C509.4,520.4 509.7,516.3 511.1,510.5 C512.5,504.7 514.9,502.0 517.2,498.2 C519.5,494.4 520.5,493.9 522.7,491.5 C524.9,489.1 525.9,487.9 528.1,486.3Z" fill="#bfa600"/>
<path d="M595.5,561.4 C595.5,563.1 595.6,562.4 595.0,564.0 C594.3,565.6 594.7,565.0 593.5,566.2 C592.3,567.4 592.9,567.0 591.3,567.7 C589.7,568.3 590.4,568.2 588.7,568.2 C587.0,568.2 587.7,568.3 586.1,567.7 C584.5,567.0 585.1,567.4 583.9,566.2 C582.7,565.0 583.1,565.6 582.4,564.0 C581.8,562.4 581.9,563.1 581.9,561.4 C581.9,559.7 581.8,560.4 582.4,558.8 C583.1,557.2 582.7,557.8 583.9,556.6 C585.1,555.4 584.5,555.8 586.1,555.1 C587.7,554.5 587.0,554.6 588.7,554.6 C590.4,554.6 589.7,554.5 591.3,555.1 C592.9,555.8 592.3,555.4 593.5,556.6 C594.7,557.8 594.3,557.2 595.0,558.8 C595.6,560.4 595.5,559.7 595.5,561.4Z" fill="#fffbc8"/>
<path d="M676.3,528.0 C677.0,523.6 678.2,522.1 679.4,519.8 C680.6,517.5 680.4,516.9 682.5,516.7 C684.6,516.5 686.6,517.1 689.7,518.7 C692.8,520.3 695.2,522.2 697.9,524.9 C700.6,527.6 702.0,528.7 703.0,532.1 C704.0,535.5 708.4,540.0 703.0,542.0 C697.6,544.0 681.3,544.8 676.0,542.0 C670.7,539.2 675.6,532.4 676.3,528.0Z" fill="#bfa600"/>
<path d="M765.0,435.5 C765.0,437.7 765.1,436.7 764.5,438.8 C764.0,440.8 764.3,440.0 763.2,441.5 C762.2,443.0 762.7,442.5 761.3,443.4 C759.9,444.2 760.5,444.0 759.0,444.0 C757.5,444.0 758.1,444.2 756.7,443.4 C755.3,442.5 755.8,443.0 754.8,441.5 C753.7,440.0 754.0,440.8 753.5,438.8 C752.9,436.7 753.0,437.7 753.0,435.5 C753.0,433.3 752.9,434.3 753.5,432.2 C754.0,430.2 753.7,431.0 754.8,429.5 C755.8,428.0 755.3,428.5 756.7,427.6 C758.1,426.8 757.5,427.0 759.0,427.0 C760.5,427.0 759.9,426.8 761.3,427.6 C762.7,428.5 762.2,428.0 763.2,429.5 C764.3,431.0 764.0,430.2 764.5,432.2 C765.1,434.3 765.0,433.3 765.0,435.5Z" fill="#bfa600"/>
<path d="M703.5,534.0 C703.5,535.0 703.6,534.6 703.3,535.5 C703.1,536.5 703.2,536.1 702.8,536.8 C702.3,537.6 702.5,537.3 702.0,537.7 C701.4,538.1 701.6,538.0 701.0,538.0 C700.4,538.0 700.6,538.1 700.0,537.7 C699.5,537.3 699.7,537.6 699.2,536.8 C698.8,536.1 698.9,536.5 698.7,535.5 C698.4,534.6 698.5,535.0 698.5,534.0 C698.5,533.0 698.4,533.4 698.7,532.5 C698.9,531.5 698.8,531.9 699.2,531.2 C699.7,530.4 699.5,530.7 700.0,530.3 C700.6,529.9 700.4,530.0 701.0,530.0 C701.6,530.0 701.4,529.9 702.0,530.3 C702.5,530.7 702.3,530.4 702.8,531.2 C703.2,531.9 703.1,531.5 703.3,532.5 C703.6,533.4 703.5,533.0 703.5,534.0Z" fill="#bfa600"/>
<path d="M780.5,537.5 C780.5,538.3 780.6,537.9 780.2,538.6 C779.8,539.4 780.1,539.1 779.3,539.6 C778.6,540.2 779.0,540.0 778.0,540.3 C777.1,540.6 777.5,540.5 776.5,540.5 C775.5,540.5 775.9,540.6 775.0,540.3 C774.0,540.0 774.4,540.2 773.7,539.6 C772.9,539.1 773.2,539.4 772.8,538.6 C772.4,537.9 772.5,538.3 772.5,537.5 C772.5,536.7 772.4,537.1 772.8,536.4 C773.2,535.6 772.9,535.9 773.7,535.4 C774.4,534.8 774.0,535.0 775.0,534.7 C775.9,534.4 775.5,534.5 776.5,534.5 C777.5,534.5 777.1,534.4 778.0,534.7 C779.0,535.0 778.6,534.8 779.3,535.4 C780.1,535.9 779.8,535.6 780.2,536.4 C780.6,537.1 780.5,536.7 780.5,537.5Z" fill="#bfa600"/>
<path d="M1075.0,325.0 C1071.2,326.8 1072.4,326.7 1070.8,329.0 C1069.2,331.3 1069.0,332.7 1067.2,336.3 C1065.4,339.9 1063.9,343.6 1061.7,347.2 C1059.5,350.8 1057.7,351.5 1056.3,354.4 C1054.9,357.3 1054.7,356.2 1054.5,361.7 C1054.3,367.2 1055.4,375.6 1055.4,381.8 C1055.4,388.0 1055.4,389.1 1054.5,392.7 C1053.6,396.3 1052.1,397.8 1050.8,400.0 C1049.5,402.2 1047.4,403.4 1048.1,403.6 C1048.8,403.8 1051.8,401.3 1054.5,400.9 C1057.2,400.5 1058.8,402.4 1061.7,401.8 C1064.6,401.2 1065.4,399.2 1069.0,398.1 C1072.6,397.0 1075.9,396.5 1079.9,396.3 C1083.9,396.1 1086.3,396.1 1089.0,397.2 C1091.7,398.3 1092.4,399.1 1093.5,401.8 C1094.6,404.5 1094.9,406.9 1094.4,410.9 C1093.9,414.9 1093.0,417.8 1090.8,421.8 C1088.6,425.8 1086.8,427.5 1083.5,430.8 C1080.2,434.1 1076.0,434.8 1074.4,438.1 C1072.8,441.4 1074.6,443.2 1075.3,447.2 C1076.0,451.2 1076.5,454.5 1078.1,458.1 C1079.7,461.7 1081.5,462.8 1083.5,465.4 C1085.5,468.0 1082.8,470.1 1088.1,471.0 C1093.4,471.9 1095.6,488.2 1110.0,470.0 C1124.4,451.8 1164.0,410.0 1160.0,380.0 C1156.0,350.0 1107.0,331.0 1090.0,320.0 C1073.0,309.0 1078.8,323.2 1075.0,325.0Z" fill="#a86632"/>
<path d="M1015.0,518.0 C1014.7,512.8 1016.0,519.2 1018.6,518.8 C1021.2,518.4 1023.7,516.5 1028.2,516.2 C1032.7,515.9 1035.9,516.6 1041.0,517.3 C1046.1,518.0 1049.7,518.9 1053.9,519.8 C1058.1,520.7 1060.8,517.0 1062.0,522.0 C1063.2,527.0 1068.4,540.4 1060.0,545.0 C1051.6,549.6 1029.0,550.4 1020.0,545.0 C1011.0,539.6 1015.3,523.2 1015.0,518.0Z" fill="#a86632"/>
<path d="M60.0,264.0 C62.5,284.9 69.0,262.1 72.6,264.4 C76.2,266.7 75.5,270.6 78.1,275.3 C80.7,280.0 86.1,283.3 85.4,288.0 C84.7,292.7 78.1,293.1 74.5,298.9 C70.9,304.7 69.0,310.9 67.2,317.1 C65.4,323.3 64.7,325.4 65.4,329.8 C66.1,334.2 67.2,336.7 70.8,338.9 C74.4,341.1 78.0,341.8 83.5,340.7 C89.0,339.6 92.3,335.9 98.1,333.4 C103.9,330.9 107.5,331.3 112.6,328.0 C117.7,324.7 119.9,322.2 123.5,317.1 C127.1,312.0 129.0,306.9 130.8,302.5 C132.6,298.1 131.5,297.1 132.6,295.3 C133.7,293.5 136.2,296.0 136.2,293.5 C136.2,291.0 132.2,284.1 132.6,282.6 C133.0,281.1 136.2,283.7 138.0,286.2 C139.8,288.7 139.4,292.8 141.6,295.3 C143.8,297.8 144.5,298.5 148.9,298.9 C153.3,299.3 157.6,297.1 163.4,297.1 C169.2,297.1 172.9,296.7 178.0,298.9 C183.1,301.1 184.9,304.5 188.9,308.0 C192.9,311.5 194.0,313.9 198.0,316.3 C202.0,318.7 205.3,320.2 208.9,320.0 C212.5,319.8 213.5,318.4 216.1,315.3 C218.7,312.2 219.8,309.4 221.8,304.5 C223.8,299.6 226.8,296.5 226.0,291.0 C225.2,285.5 220.2,282.8 217.9,277.1 C215.6,271.4 214.7,269.9 214.3,262.6 C213.9,255.3 215.0,248.8 216.1,240.8 C217.2,232.8 218.5,238.8 219.7,222.6 C220.9,206.4 253.9,172.5 222.0,160.0 C190.1,147.5 92.4,139.2 60.0,160.0 C27.6,180.8 57.5,243.1 60.0,264.0Z" fill="#5aa1c8"/>
<path d="M191.4,243.8 C195.9,243.7 194.5,243.0 198.0,246.5 C201.5,250.0 201.6,249.2 201.8,254.2 C202.0,259.2 202.0,258.0 198.5,261.5 C195.0,265.0 196.1,264.6 191.4,264.6 C186.7,264.6 188.0,265.0 184.5,261.5 C181.0,258.0 181.0,259.1 181.0,254.2 C181.0,249.3 181.0,250.3 184.5,246.8 C188.0,243.3 186.9,243.9 191.4,243.8Z" fill="#3575a8"/>
<path d="M372.7,686.2 C374.9,683.7 375.8,683.0 379.1,682.6 C382.4,682.2 385.9,683.1 389.0,684.4 C392.1,685.7 393.1,685.9 394.5,689.0 C395.9,692.1 398.9,695.8 396.0,700.0 C393.1,704.2 385.6,711.0 380.0,710.0 C374.4,709.0 369.5,699.8 368.0,695.0 C366.5,690.2 370.5,688.7 372.7,686.2Z" fill="#5aa1c8"/>
<path d="M566.5,195.3 C567.1,186.8 563.9,189.5 570.8,184.4 C577.7,179.3 576.3,180.6 587.2,180.0 C598.1,179.4 595.3,177.5 603.5,182.6 C611.7,187.7 610.1,186.2 611.9,195.3 C613.7,204.4 614.2,202.3 609.0,209.8 C603.8,217.3 606.5,214.4 596.2,217.8 C585.9,221.2 587.2,222.7 578.1,220.0 C569.0,217.3 572.9,218.0 569.0,209.8 C565.1,201.6 565.9,203.8 566.5,195.3Z" fill="#5aa1c8"/>
<path d="M870.7,250.8 C870.7,248.2 871.7,247.5 873.4,245.3 C875.1,243.1 876.9,242.5 879.4,239.9 C881.9,237.3 883.4,235.0 886.0,232.2 C888.6,229.4 889.7,227.7 892.5,225.7 C895.3,223.7 896.4,223.3 900.1,222.4 C903.8,221.5 906.6,221.1 911.0,221.1 C915.4,221.1 918.2,221.6 921.9,222.4 C925.6,223.2 927.6,223.4 929.6,225.2 C931.6,227.0 931.4,228.3 931.7,231.2 C932.0,234.1 932.3,236.9 931.2,239.9 C930.1,242.9 928.4,243.8 926.3,246.4 C924.2,249.0 923.0,249.9 920.8,253.0 C918.6,256.1 917.6,258.4 915.4,261.7 C913.2,265.0 912.1,266.5 909.9,269.3 C907.7,272.1 906.9,273.4 904.5,275.8 C902.1,278.2 900.6,279.8 898.0,281.3 C895.4,282.8 894.5,283.7 891.4,283.5 C888.3,283.3 885.5,281.9 882.7,280.2 C879.9,278.5 878.8,277.6 877.2,274.8 C875.6,272.0 875.3,269.3 874.5,266.0 C873.7,262.7 874.2,261.4 873.4,258.4 C872.6,255.4 870.7,253.4 870.7,250.8Z" fill="#5aa1c8"/>
<path d="M881.1,248.6 C882.3,245.8 882.8,244.7 884.9,243.1 C887.0,241.5 887.9,241.0 891.4,240.4 C894.9,239.8 899.2,239.4 902.3,239.9 C905.4,240.4 905.4,241.1 906.7,243.1 C908.0,245.1 908.6,246.6 908.9,249.7 C909.2,252.8 909.0,255.1 908.3,258.4 C907.6,261.7 907.2,263.2 905.6,266.0 C904.0,268.8 902.5,270.4 900.1,272.6 C897.7,274.8 896.2,275.9 893.6,276.9 C891.0,277.9 889.7,278.4 887.1,277.5 C884.5,276.6 882.4,274.9 880.5,272.6 C878.6,270.3 878.1,269.1 877.8,266.0 C877.5,262.9 878.2,260.8 878.9,257.3 C879.6,253.8 879.9,251.4 881.1,248.6Z" fill="#3575a8"/>
<path d="M881.6,257.3 C882.6,254.9 882.9,253.4 884.9,251.9 C886.9,250.4 889.0,249.7 891.4,249.7 C893.8,249.7 895.0,250.2 896.9,251.9 C898.8,253.6 900.2,255.6 900.7,258.4 C901.2,261.2 900.8,263.4 899.6,266.0 C898.4,268.6 897.0,270.1 894.7,271.5 C892.4,272.9 890.5,273.3 888.1,273.1 C885.7,272.9 884.3,272.2 882.7,270.4 C881.1,268.6 880.2,266.5 880.0,263.9 C879.8,261.3 880.6,259.7 881.6,257.3Z" fill="#11427e"/>
<path d="M890.8,261.1 C890.8,262.4 890.9,262.0 890.2,263.1 C889.5,264.2 889.8,263.9 888.6,264.3 C887.4,264.7 887.8,264.7 886.6,264.3 C885.4,263.9 885.7,264.2 885.0,263.1 C884.3,262.0 884.4,262.4 884.4,261.1 C884.4,259.8 884.3,260.2 885.0,259.1 C885.7,258.0 885.4,258.3 886.6,257.9 C887.8,257.5 887.4,257.5 888.6,257.9 C889.8,258.3 889.5,258.0 890.2,259.1 C890.9,260.2 890.8,259.8 890.8,261.1Z" fill="#001c5e"/>
<path d="M379.1,516.9 C380.0,514.3 380.4,512.1 382.9,509.2 C385.4,506.3 388.0,504.6 391.8,502.3 C395.6,500.0 398.2,499.8 402.0,497.8 C405.8,495.8 407.6,493.8 410.9,492.1 C414.2,490.4 415.7,489.6 418.5,489.5 C421.3,489.4 422.4,490.0 424.9,491.4 C427.4,492.8 428.7,493.9 431.2,496.5 C433.7,499.1 435.1,501.4 437.6,504.2 C440.1,507.0 441.5,508.2 443.9,510.5 C446.3,512.8 448.1,512.8 449.6,515.6 C451.1,518.4 450.8,520.4 451.6,524.5 C452.4,528.6 453.8,531.9 453.5,536.0 C453.2,540.1 451.7,541.3 450.3,544.9 C448.9,548.5 447.8,551.1 446.5,553.8 C445.2,556.5 447.0,557.1 443.9,558.2 C440.8,559.3 436.5,559.5 431.2,559.5 C425.9,559.5 421.3,557.8 417.2,558.2 C413.1,558.6 414.2,560.5 410.9,561.4 C407.6,562.3 406.0,562.7 400.7,562.7 C395.4,562.7 387.8,563.2 384.2,561.4 C380.6,559.6 383.3,557.9 382.9,553.8 C382.5,549.7 383.1,545.6 382.3,541.0 C381.5,536.4 379.9,534.7 379.1,530.9 C378.3,527.1 378.4,524.8 378.4,522.0 C378.4,519.2 378.2,519.5 379.1,516.9Z" fill="#5aa1c8"/>
<path d="M411.2,531.9 C411.2,534.4 411.5,533.4 410.3,535.7 C409.1,538.0 409.9,537.1 407.7,538.9 C405.6,540.7 406.7,540.1 403.9,541.0 C401.1,542.0 402.4,541.8 399.4,541.8 C396.4,541.8 397.7,542.0 394.9,541.0 C392.1,540.1 393.2,540.7 391.1,538.9 C388.9,537.1 389.7,538.0 388.5,535.7 C387.3,533.4 387.6,534.4 387.6,531.9 C387.6,529.4 387.3,530.4 388.5,528.1 C389.7,525.8 388.9,526.7 391.1,524.9 C393.2,523.1 392.1,523.7 394.9,522.8 C397.7,521.8 396.4,522.0 399.4,522.0 C402.4,522.0 401.1,521.8 403.9,522.8 C406.7,523.7 405.6,523.1 407.7,524.9 C409.9,526.7 409.1,525.8 410.3,528.1 C411.5,530.4 411.2,529.4 411.2,531.9Z" fill="#8fd3de"/>
<path d="M405.1,507.3 C406.1,505.0 408.5,503.4 410.9,501.6 C413.3,499.8 414.4,498.9 417.2,498.4 C420.0,497.9 422.1,498.3 424.9,499.1 C427.7,499.9 428.7,500.3 431.2,502.3 C433.7,504.3 434.8,506.3 437.6,509.2 C440.4,512.1 442.9,513.8 445.2,516.9 C447.5,520.0 448.1,520.9 449.0,524.5 C449.9,528.1 449.9,531.4 449.6,534.7 C449.3,538.0 449.3,538.7 447.7,541.0 C446.1,543.3 443.9,544.3 441.4,546.1 C438.9,547.9 438.1,549.0 435.0,549.9 C431.9,550.8 429.4,551.0 426.1,550.6 C422.8,550.2 420.9,549.7 418.5,548.0 C416.1,546.3 415.0,545.7 414.0,542.3 C413.0,538.9 414.0,535.2 413.4,530.9 C412.8,526.6 412.4,524.3 410.9,520.7 C409.4,517.1 407.0,515.8 405.8,513.1 C404.6,510.4 404.1,509.6 405.1,507.3Z" fill="#3575a8"/>
<path d="M411.5,508.6 C412.1,505.8 413.6,505.3 416.0,504.2 C418.4,503.1 420.6,502.8 423.6,502.9 C426.6,503.0 428.4,503.3 431.2,504.8 C434.0,506.3 435.1,507.8 437.6,510.5 C440.1,513.2 442.0,515.0 443.9,518.1 C445.8,521.2 446.3,522.7 447.1,525.8 C447.9,528.9 448.3,530.6 447.7,533.4 C447.1,536.2 446.2,537.6 443.9,539.8 C441.6,542.0 439.3,542.9 436.3,544.2 C433.3,545.5 431.5,546.2 428.7,546.1 C425.9,546.0 424.6,545.4 422.3,543.6 C420.0,541.8 418.7,540.3 417.2,537.2 C415.7,534.1 415.6,532.1 414.7,528.3 C413.8,524.5 413.4,522.0 412.8,518.1 C412.2,514.2 410.9,511.4 411.5,508.6Z" fill="#11427e"/>
<path d="M414.7,510.5 C415.7,507.2 417.3,507.6 419.8,506.7 C422.3,505.8 424.6,505.7 427.4,506.1 C430.2,506.5 431.5,507.0 433.8,508.6 C436.1,510.2 436.6,511.9 438.8,514.3 C441.0,516.7 443.3,518.7 444.6,520.7 C445.9,522.7 445.8,522.5 445.2,524.5 C444.6,526.5 442.7,528.1 441.4,530.9 C440.1,533.7 440.1,536.2 438.8,538.5 C437.5,540.8 437.0,541.4 435.0,542.3 C433.0,543.2 431.2,543.4 428.7,542.9 C426.2,542.4 424.5,541.7 422.3,539.8 C420.1,537.9 419.4,536.7 417.9,533.4 C416.4,530.1 415.3,527.8 414.7,523.2 C414.1,518.6 413.7,513.8 414.7,510.5Z" fill="#001c5e"/>
</g>
<g fill="none" stroke="#000" stroke-width="1.4" stroke-linejoin="round" stroke-linecap="round">
<path d="M52.7,413.5 L49.6,410.8 L49.1,402.6 L46.0,394.5 L47.3,388.1 L44.5,375.4 L46.0,362.7 L42.7,357.2 L43.6,351.8 L40.9,339.0 L35.4,331.8 L32.7,322.7 L37.3,313.6 L40.0,308.2 L45.4,299.1 L47.3,294.4 L52.7,276.3 L62.7,269.0 L72.7,261.7 L80.0,249.0 L86.3,232.7 L85.4,225.4 L90.0,222.7 L98.1,220.0 L104.5,221.8 L110.0,220.0 L111.7,213.6 L116.3,211.4 L120.8,213.6 L124.5,217.8 L130.0,217.8 L134.5,215.4 L137.2,205.4 L139.0,196.3 L143.5,186.3 L142.3,182.7 L149.0,174.2 L155.3,176.3 L162.6,180.0 L169.9,182.7 L174.4,181.8 L173.5,189.1 L170.8,195.4 L178.0,198.1 L184.4,202.7 L193.5,202.1 L205.3,202.7 L211.7,211.8 L212.6,219.0 L220.7,219.6 L230.6,222.6 L233.6,220.9 L238.2,213.6 L244.5,213.2 L252.7,216.3 L254.5,223.6 L260.9,229.0 L269.1,233.6 L275.4,236.3 L282.7,238.1 L285.4,240.8 L291.8,236.8 L299.0,233.6 L309.9,230.9 L320.8,229.9 L329.9,229.0 L332.6,222.7 L337.2,216.3 L335.0,208.1 L339.0,201.8 L344.4,197.2 L345.3,192.7 L353.5,189.1 L360.8,187.3 L368.1,186.0 L372.6,184.5 L378.0,187.3 L380.4,192.7 L378.0,191.5 L375.3,197.2 L370.8,200.0 L370.8,209.1 L375.3,211.4 L379.9,210.0 L384.4,204.5 L389.9,200.0 L398.0,200.0 L399.8,197.2 L406.2,193.6 L408.9,186.3 L410.7,179.1 L409.8,170.0 L407.3,164.4 L402.7,155.4 L403.6,144.5 L400.5,139.0 L402.7,131.7 L408.2,125.4 L417.2,123.6 L421.8,118.1 L431.8,109.9 L435.4,102.7 L441.8,95.0 L451.8,96.3 L456.3,90.9 L464.5,83.6 L471.7,78.2 L477.2,75.4 L479.0,71.8 L476.3,64.2 L484.5,65.4 L491.7,67.3 L500.8,62.7 L506.3,64.5 L509.9,71.4 L517.2,73.3 L525.3,73.6 L533.5,73.3 L534.8,79.1 L535.3,89.1 L542.6,93.6 L553.5,97.2 L563.5,101.8 L565.3,105.4 L573.5,110.9 L580.7,118.1 L585.3,120.8 L590.0,121.8 L598.2,127.2 L607.2,138.1 L610.9,142.7 L620.0,145.4 L630.9,150.9 L639.9,155.4 L643.6,154.5 L642.1,148.1 L644.5,143.6 L650.8,143.6 L661.7,146.3 L674.5,148.1 L689.0,150.5 L699.9,151.2 L710.8,150.0 L719.9,149.0 L724.4,145.4 L725.3,140.9 L730.8,138.1 L736.2,137.8 L740.8,140.0 L743.5,138.1 L750.8,140.9 L759.8,143.6 L765.3,144.5 L769.8,142.7 L770.7,133.6 L773.5,131.8 L778.9,133.6 L780.5,141.2 L790.8,144.1 L801.2,140.6 L808.5,133.3 L809.6,126.6 L818.9,125.0 L826.2,129.1 L840.8,132.3 L853.3,135.0 L866.8,126.0 L878.2,141.6 L880.3,132.3 L889.7,127.5 L900.1,130.8 L909.5,123.9 L918.8,117.7 L922.0,113.5 L930.3,118.7 L938.6,120.8 L946.9,118.3 L954.2,117.7 L958.4,121.9 L958.4,134.3 L961.5,142.7 L974.0,144.8 L973.0,152.0 L975.0,166.6 L982.3,171.8 L982.7,183.3 L980.2,191.6 L976.1,199.9 L967.8,210.3 L960.5,218.7 L967.8,221.8 L976.3,225.4 L987.2,230.0 L1000.0,232.4 L1008.1,237.3 L1012.7,245.4 L1019.9,253.6 L1026.3,257.2 L1032.7,262.7 L1040.8,261.4 L1049.0,266.3 L1052.6,264.5 L1060.8,267.6 L1064.5,265.4 L1069.0,267.6 L1068.1,272.7 L1065.4,279.9 L1064.5,290.8 L1065.7,299.9 L1063.5,305.4 L1064.5,314.5 L1069.0,323.5 L1073.5,330.8 L1079.9,341.7 L1089.0,354.4 L1098.1,366.2 L1100.8,368.2 L1102.6,365.4 L1114.4,367.3 L1123.5,373.6 L1135.3,382.7 L1131.7,384.5 L1130.8,388.2 L1123.5,398.1 L1116.2,407.2 L1107.1,417.2 L1103.5,422.7 L1100.8,430.8 L1099.9,438.1 L1096.2,447.2 L1095.3,456.3 L1090.8,463.5 L1088.1,470.8 L1086.2,478.1 L1086.2,485.3 L1079.9,488.1 L1074.4,494.4 L1069.0,499.9 L1067.2,505.3 L1067.8,501.6 L1066.7,510.2 L1056.0,518.8 L1054.9,525.2 L1047.4,530.5 L1043.2,534.8 L1031.4,538.0 L1023.9,529.4 L1017.5,519.8 L1008.9,512.3 L1000.4,510.2 L994.0,512.3 L986.5,517.3 L977.9,511.7 L970.5,513.8 L961.9,516.6 L955.5,526.2 L951.2,536.9 L944.8,543.3 L934.1,547.2 L921.3,547.6 L912.7,542.9 L906.3,544.4 L899.9,536.9 L893.5,532.2 L882.8,534.8 L874.2,534.4 L861.7,533.5 L852.6,533.0 L839.9,533.5 L830.8,531.2 L823.5,533.5 L814.4,535.3 L807.2,540.8 L798.1,544.4 L789.0,545.0 L783.5,542.6 L778.1,539.0 L770.8,538.1 L765.4,534.1 L759.9,533.5 L752.7,532.6 L745.4,535.3 L739.9,538.1 L734.5,534.4 L731.8,535.3 L727.2,532.6 L719.1,530.8 L712.7,532.6 L703.6,533.5 L697.3,536.2 L689.1,533.5 L680.0,533.5 L675.3,532.1 L668.1,536.2 L658.9,538.2 L644.5,539.3 L630.1,539.3 L617.8,537.6 L610.6,537.6 L606.5,542.3 L601.4,550.6 L594.2,560.8 L587.0,569.0 L578.8,571.1 L571.6,578.3 L568.5,585.5 L562.4,586.5 L556.2,590.2 L546.0,591.0 L535.7,588.5 L523.4,585.5 L511.1,586.9 L496.7,592.6 L485.3,598.1 L478.1,600.9 L469.9,604.5 L463.5,608.1 L456.3,615.4 L453.5,621.8 L449.9,629.9 L443.5,639.9 L438.1,650.8 L434.5,659.9 L432.6,667.2 L429.0,664.5 L423.6,660.8 L418.1,660.8 L414.5,665.4 L412.3,670.8 L414.5,676.3 L412.7,679.9 L415.4,684.4 L410.8,689.0 L403.6,690.8 L394.5,694.4 L385.4,698.1 L380.0,700.8 L374.5,690.8 L367.2,685.3 L361.8,687.2 L354.5,684.4 L347.2,681.7 L343.5,679.9 L336.3,670.8 L329.0,662.6 L321.7,655.3 L316.3,656.3 L309.0,656.3 L301.7,656.3 L298.1,650.8 L292.7,639.9 L288.1,630.8 L282.7,629.0 L279.9,625.4 L276.3,616.3 L271.8,609.9 L266.3,602.7 L262.7,594.5 L259.1,588.1 L256.3,580.9 L253.6,573.6 L249.6,572.7 L253.6,571.8 L255.4,573.6 L257.2,580.0 L260.0,586.3 L263.6,588.1 L269.0,585.4 L273.6,580.9 L276.7,578.1 L274.5,576.0 L270.9,578.1 L264.5,579.1 L261.8,576.3 L265.4,572.7 L267.2,566.3 L265.4,561.8 L259.1,560.0 L252.7,553.6 L243.6,551.8 L236.3,547.3 L232.7,540.0 L229.9,532.6 L227.2,524.4 L229.0,521.7 L233.6,518.1 L240.8,513.5 L243.6,509.9 L237.2,507.2 L232.7,496.3 L227.2,483.6 L216.3,469.0 L201.8,455.4 L187.2,444.5 L179.0,440.0 L160.8,429.0 L146.3,420.4 L143.5,421.7 L135.4,419.0 L126.3,413.5 L117.2,408.4 L93.6,407.2 L75.4,408.1 L64.5,409.9 L57.2,414.1Z" stroke-width="1.4"/>
<path d="M285.4,240.8 L286.3,246.3 L289.9,248.5 L294.5,248.1 L296.3,251.7 L291.8,257.2 L289.0,261.7 L294.5,265.4 L296.3,273.5 L293.6,278.1 L288.1,276.3 L284.5,273.2 L280.0,275.4 L278.7,282.6 L277.2,288.4 L272.7,289.0 L270.9,284.4 L259.1,283.0 L248.2,285.4 L237.3,290.8 L227.2,293.6 L225.4,300.8 L218.2,304.5 L218.2,314.6 L236.3,316.1 L241.8,319.0 L245.4,333.5 L252.7,346.2 L258.1,359.0 L249.0,366.2 L247.2,377.1 L243.6,382.6 L250.8,393.5 L249.0,409.8 L250.5,423.6 L247.2,429.1 L249.0,432.7 L242.7,439.1 L240.8,445.4 L244.5,458.1 L245.4,467.2 L243.6,474.5 L241.4,478.1 L247.2,485.4 L244.5,496.3 L245.4,507.2 L243.6,509.9"/>
<path d="M247.2,485.4 L259.0,483.6 L262.6,487.2 L278.1,489.0 L287.2,493.6 L294.4,498.1 L305.3,499.5 L316.2,500.8 L319.9,499.5 L330.8,499.9 L332.6,501.7 L333.5,494.5 L337.1,489.0 L345.3,484.5 L359.8,482.5 L368.9,478.8 L374.3,474.3 L380.0,477.2 L383.6,477.7 L385.0,479.5 L388.2,478.6 L390.4,480.0 L390.9,485.4 L394.5,488.1 L399.5,491.8 L397.7,485.0 L403.6,478.1 L409.1,473.6 L412.7,470.9 L410.9,467.2 L407.2,462.7 L405.4,459.1 L408.2,457.3 L414.5,456.8 L418.1,455.3 L420.9,455.9 L422.2,460.9 L422.0,465.4 L419.1,469.1 L415.0,471.8 L416.3,478.1 L418.1,481.8 L421.8,482.2 L423.6,480.0 L429.0,474.5 L436.3,469.1 L439.9,463.6 L444.5,459.5 L445.4,464.5 L450.9,472.6 L457.3,481.7 L463.6,477.2 L470.9,472.6 L475.4,469.0"/>
<path d="M475.4,469.0 L479.1,472.6 L481.4,480.0 L484.0,487.6 L483.4,492.1 L478.9,496.5 L475.7,505.4 L468.1,510.5 L461.7,506.7 L456.6,500.3 L449.6,495.9 L443.9,498.4 L439.5,504.2 L436.9,509.9 L441.4,516.9 L445.2,521.3 L441.4,528.3 L438.8,534.7 L438.2,541.0 L436.3,546.1 L429.9,551.8 L422.3,555.7 L413.4,558.2 L411.5,563.3 L405.8,569.0 L400.7,575.4 L398.1,577.9 L391.8,574.1 L386.1,572.8 L383.5,575.4 L384.2,581.1 L390.5,581.7 L396.9,583.6 L400.7,582.4 L404.5,577.9 L410.9,576.6 L416.0,577.3 L419.8,580.5 L422.7,589.1 L429.0,599.1 L434.5,610.0 L436.3,619.0 L438.1,625.4 L445.4,624.5 L449.9,629.9"/>
<path d="M475.4,469.0 L479.1,463.6 L486.3,461.7 L492.7,459.9 L498.1,457.2 L505.4,451.8 L512.7,446.3 L519.0,442.7 L519.0,436.3 L513.6,432.7 L513.6,429.0 L519.9,428.7 L521.7,432.7 L525.4,430.9 L528.6,428.1 L530.8,423.2 L535.4,424.5 L539.0,429.0 L541.7,433.6 L544.4,431.8 L549.0,428.1 L556.3,424.5 L556.3,419.1 L553.0,414.5 L554.4,410.0 L559.9,410.9 L568.1,410.5"/>
<path d="M398.0,200.0 L399.8,204.5 L406.2,211.8 L411.7,220.0 L415.3,228.1 L418.9,236.3 L420.0,239.1 L427.3,245.4 L428.2,259.1 L432.7,265.4 L440.0,270.9 L441.8,280.0 L447.2,288.1 L448.2,299.9 L445.4,304.5 L439.1,302.7 L433.6,306.3 L428.2,307.2 L427.6,314.5 L432.7,320.8 L437.3,326.3 L439.1,329.9 L443.6,323.6 L454.5,319.0 L465.4,311.7 L471.8,308.5 L478.1,312.7 L484.5,312.7 L482.7,304.5 L488.1,306.3 L490.8,301.8 L498.1,300.5 L504.5,303.6 L509.0,309.9 L512.6,317.2 L513.5,324.5 L509.9,328.1 L516.3,324.5 L517.2,335.4 L515.4,346.3 L519.9,351.7 L521.7,357.2 L526.3,365.3 L532.6,368.1 L534.4,375.3 L536.3,380.0 L537.2,385.4 L541.7,389.1 L545.4,391.8 L550.8,390.9 L554.4,387.3 L559.9,389.1 L564.4,392.7 L563.5,398.2 L567.2,403.6 L568.1,410.5"/>
<path d="M568.1,410.5 L574.4,410.9 L576.2,416.3 L579.0,420.9 L583.5,420.0 L590.8,420.9 L597.1,418.1 L599.9,412.7 L604.4,410.9 L607.1,406.3 L613.5,405.4 L618.9,407.2 L619.8,416.3 L621.7,420.9 L627.1,422.7 L629.8,425.4"/>
<path d="M629.8,425.4 L634.4,423.6 L640.3,417.2 L645.4,396.7 L651.9,390.3 L662.1,389.0 L671.1,381.3 L677.0,377.0 L689.7,378.1"/>
<path d="M629.8,425.4 L632.6,434.5 L636.2,445.4 L638.0,458.1 L638.9,468.1 L647.9,472.5 L667.9,483.4 L680.0,493.5 L687.3,497.2 L698.2,499.9 L709.1,503.5 L714.5,507.2 L721.8,507.2 L727.2,511.7 L732.7,518.1 L733.6,525.3 L730.9,530.8 L731.8,535.3"/>
<path d="M643.6,154.5 L649.0,157.2 L649.9,162.7 L653.6,166.3 L653.6,176.3 L656.3,182.7 L658.1,189.0 L661.7,194.5 L662.7,201.7 L658.1,206.3 L653.6,210.8 L649.9,216.3 L646.3,220.8 L648.1,225.3 L642.7,228.1 L640.0,230.0 L644.5,230.9 L643.6,240.9 L644.5,248.2 L643.6,257.2 L640.9,259.1 L640.0,270.0 L638.7,282.7 L641.8,285.4 L652.7,288.1 L653.6,290.9 L649.1,294.5 L647.2,301.8 L655.4,305.4 L660.9,311.7 L653.6,318.1 L649.1,322.6 L651.8,327.2 L659.0,329.0 L662.7,337.2 L669.0,344.4 L673.6,350.8 L679.9,354.4 L675.4,358.1 L679.9,362.6 L684.5,368.1 L688.1,375.3 L689.7,378.1"/>
<path d="M689.7,378.1 L700.6,383.5 L721.8,381.6 L726.3,371.7 L729.0,365.3 L729.9,360.8 L731.7,357.2 L734.4,359.9 L740.8,356.3 L751.7,351.7 L760.8,348.1 L769.9,342.6 L778.0,336.3 L778.9,331.7 L783.5,328.5 L789.8,331.7 L795.3,336.3 L802.5,339.9 L810.9,339.0 L820.0,335.4 L825.4,329.9 L829.9,323.6 L838.1,322.3 L846.3,322.7 L852.7,327.2 L861.7,332.7 L869.0,329.0 L874.5,329.0 L881.7,331.8 L882.6,325.4 L889.0,320.9 L896.3,316.3 L899.9,313.6 L898.1,306.3 L897.2,297.2 L901.7,291.8 L905.3,284.5 L910.8,277.3 L913.6,270.0 L917.8,260.3 L922.0,256.1 L928.2,249.9 L934.4,244.7 L940.7,246.8 L946.9,241.5 L952.8,235.3 L953.2,222.8 L960.5,218.7"/>
<path d="M1026.3,257.2 L1018.1,261.8 L1010.9,265.4 L1010.0,272.7 L1009.0,281.8 L1012.7,289.0 L1011.8,296.3 L1008.1,303.6 L1005.4,310.8 L1006.3,318.1 L1007.2,324.4 L1000.9,325.7 L992.7,325.4 L994.5,330.8 L996.3,338.1 L999.1,344.4 L998.1,349.9 L990.0,350.8 L988.2,349.9 L979.1,354.4 L970.9,359.9 L968.9,364.5 L958.0,371.7 L950.8,379.0 L946.2,386.3 L945.3,397.2 L942.6,408.1 L941.7,421.6 L929.0,418.0 L921.7,415.3 L914.4,409.0 L907.2,408.1 L901.7,420.0 L899.9,430.0 L892.4,438.6 L888.1,450.3 L880.6,451.4 L874.2,446.7 L874.2,455.7 L877.4,466.4 L882.8,474.9 L880.6,482.4 L873.1,486.7 L865.7,493.1 L867.8,500.6 L873.1,508.1 L867.8,513.4 L859.2,517.7 L852.8,524.1 L852.8,532.7"/>
<path d="M482.7,304.5 L485.4,309.9 L488.1,313.6 L489.9,317.2 L494.5,319.0 L499.0,319.0 L498.1,324.5 L500.8,329.9" stroke-width="1.8"/>
<path d="M489.9,317.2 L494.0,322.0 L498.1,324.5" stroke-width="1.8"/>
</g>
<text x="584" y="43" font-size="18" text-anchor="middle" fill="#000" textLength="466" lengthAdjust="spacingAndGlyphs">Precipitaciones totales acumuladas en febrero de 2021</text>
<text x="772.5" y="640.5" font-size="14.5" text-anchor="middle" fill="#111" textLength="73" lengthAdjust="spacing">Milímetros:</text>
<rect x="487.0" y="688.5" width="73.1" height="19" fill="#a86632"/>
<rect x="560.1" y="688.5" width="73.1" height="19" fill="#bfa600"/>
<rect x="633.2" y="688.5" width="73.1" height="19" fill="#fffbc8"/>
<rect x="706.3" y="688.5" width="73.1" height="19" fill="#8fd3de"/>
<rect x="779.4" y="688.5" width="73.1" height="19" fill="#5aa1c8"/>
<rect x="852.5" y="688.5" width="73.1" height="19" fill="#3575a8"/>
<rect x="925.6" y="688.5" width="73.1" height="19" fill="#11427e"/>
<rect x="998.7" y="688.5" width="73.1" height="19" fill="#001c5e"/>
<rect x="487" y="688.5" width="584.8" height="19" fill="none" stroke="#555" stroke-width="1"/>
<line x1="560.1" y1="688.5" x2="560.1" y2="707.5" stroke="#666" stroke-width="1"/>
<line x1="633.2" y1="688.5" x2="633.2" y2="707.5" stroke="#666" stroke-width="1"/>
<line x1="706.3" y1="688.5" x2="706.3" y2="707.5" stroke="#666" stroke-width="1"/>
<line x1="779.4" y1="688.5" x2="779.4" y2="707.5" stroke="#666" stroke-width="1"/>
<line x1="852.5" y1="688.5" x2="852.5" y2="707.5" stroke="#666" stroke-width="1"/>
<line x1="925.6" y1="688.5" x2="925.6" y2="707.5" stroke="#666" stroke-width="1"/>
<line x1="998.7" y1="688.5" x2="998.7" y2="707.5" stroke="#666" stroke-width="1"/>
<text x="486" y="670.2" font-size="14.5" text-anchor="middle" fill="#111">0</text>
<text x="558" y="670.2" font-size="14.5" text-anchor="middle" fill="#111">1</text>
<text x="631" y="670.2" font-size="14.5" text-anchor="middle" fill="#111">25</text>
<text x="703" y="670.2" font-size="14.5" text-anchor="middle" fill="#111">50</text>
<text x="778" y="670.2" font-size="14.5" text-anchor="middle" fill="#111">100</text>
<text x="850" y="670.2" font-size="14.5" text-anchor="middle" fill="#111">150</text>
<text x="923" y="670.2" font-size="14.5" text-anchor="middle" fill="#111">200</text>
<text x="996" y="670.2" font-size="14.5" text-anchor="middle" fill="#111">250</text>
<g>
<path d="M142.7,622.1 L154.6,622.1 L127,684.6 L114.4,684.6 Z" fill="#35953f"/>
<path d="M152.6,622.1 L156.4,622.1 L180.8,684.6 L170,684.6 L162.8,669.7 L149.2,636 Z" fill="#0c8239"/>
<path d="M144.2,668.1 L157.6,668.3 C166,669.5 174,674 180.8,684.6 L168.4,684.6 C161,678.5 152,675.5 144.2,677.7 Z" fill="#35953f"/>
</g>
<text x="77" y="705.5" font-size="16.3" font-weight="bold" fill="#1d1d1b" textLength="147" lengthAdjust="spacingAndGlyphs">Junta de Andalucía</text>
</svg></body></html>
